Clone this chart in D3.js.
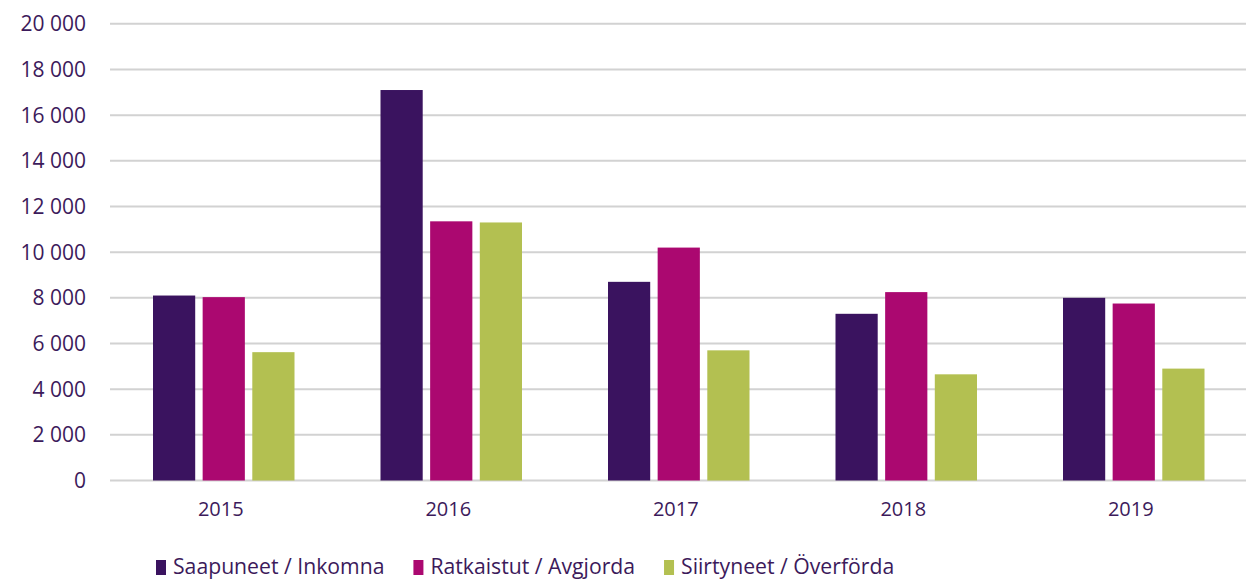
<!DOCTYPE html>
<html>
<head>
<meta charset="utf-8">
<script src="https://cdn.jsdelivr.net/npm/d3@7"></script>
<style>
  html, body { margin: 0; padding: 0; background: #fff; }
  svg { display: block; font-family: "Open Sans", "Noto Sans", sans-serif; }
</style>
</head>
<body>
<svg id="chart" width="1246" height="579"></svg>
<script>
const years = ['2015', '2016', '2017', '2018', '2019'];
const seriesNames = ['Saapuneet / Inkomna', 'Ratkaistut / Avgjorda', 'Siirtyneet / Överförda'];
const saapuneet = [8100, 17100, 8700, 7300, 8000];
const ratkaistut = [8030, 11350, 10200, 8250, 7750];
const siirtyneet = [5620, 11300, 5700, 4650, 4900];
const yTicks = [0, 2000, 4000, 6000, 8000, 10000, 12000, 14000, 16000, 18000, 20000];
const colors = ['#3a135f', '#ab0870', '#b3c051'];

const TEXT_COLOR = '#3c1a5b';
const GRID_COLOR = '#d2d2d2';
const PLOT_LEFT = 110;
const PLOT_RIGHT = 1247.5;
const Y_ZERO = 480.5;
const Y_TOP = 23.8;

const values = [saapuneet, ratkaistut, siirtyneet];
const svg = d3.select('#chart');

const x = d3.scaleBand().domain(years).range([PLOT_LEFT, PLOT_RIGHT]);
const xInner = d3.scaleBand().domain(d3.range(seriesNames.length))
  .range([43, x.bandwidth() - 43]).paddingInner(0.15);
const y = d3.scaleLinear().domain([0, 20000]).range([Y_ZERO, Y_TOP]);

const fmt = d3.formatLocale({ decimal: ',', thousands: ' ', grouping: [3], currency: ['', ''] }).format(',d');

// gridlines
svg.append('g').selectAll('line')
  .data(yTicks)
  .join('line')
  .attr('x1', PLOT_LEFT).attr('x2', 1246)
  .attr('y1', d => y(d)).attr('y2', d => y(d))
  .attr('stroke', GRID_COLOR).attr('stroke-width', 2);

// y labels
svg.append('g').selectAll('text')
  .data(yTicks)
  .join('text')
  .attr('x', 86).attr('y', d => y(d))
  .attr('dy', '0.36em')
  .attr('text-anchor', 'end')
  .attr('font-size', '21px')
  .attr('fill', TEXT_COLOR)
  .text(d => fmt(d));

// bars
const groups = svg.append('g').selectAll('g')
  .data(years)
  .join('g')
  .attr('transform', d => `translate(${x(d)},0)`);

groups.selectAll('rect')
  .data((yr, i) => values.map((s, k) => ({ k, v: s[i] })))
  .join('rect')
  .attr('x', d => xInner(d.k))
  .attr('width', xInner.bandwidth())
  .attr('y', d => y(d.v))
  .attr('height', d => Y_ZERO - y(d.v))
  .attr('fill', d => colors[d.k]);

// x labels
svg.append('g').selectAll('text')
  .data(years)
  .join('text')
  .attr('x', d => x(d) + x.bandwidth() / 2 - 3)
  .attr('y', 516)
  .attr('text-anchor', 'middle')
  .attr('font-size', '20px')
  .attr('fill', TEXT_COLOR)
  .text(d => d);

// legend
const legend = svg.append('g');
let lx = 156;
seriesNames.forEach((name, k) => {
  legend.append('rect')
    .attr('x', lx).attr('y', 560)
    .attr('width', 10).attr('height', 15)
    .attr('fill', colors[k]);
  const t = legend.append('text')
    .attr('x', lx + 17).attr('y', 574)
    .attr('font-size', '21.2px')
    .attr('fill', TEXT_COLOR)
    .text(name);
  lx += 17 + t.node().getComputedTextLength() + 29;
});
</script>
</body>
</html>
